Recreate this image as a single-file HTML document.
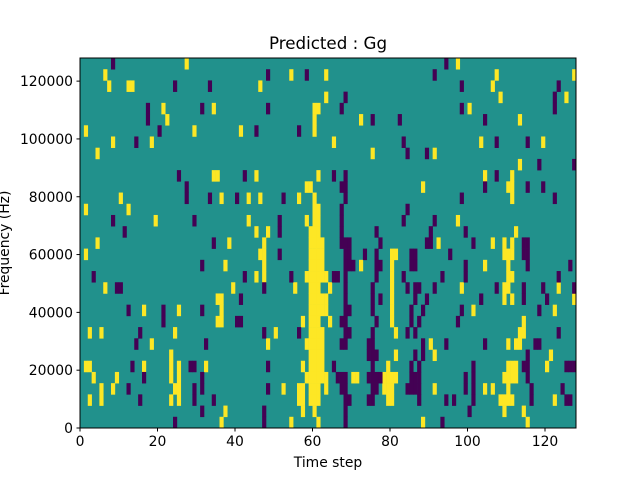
<!DOCTYPE html>
<html><head><meta charset="utf-8"><style>
html,body{margin:0;padding:0;background:#fff;}
svg{display:block;font-family:"DejaVu Sans","Liberation Sans",sans-serif;}
</style></head><body>
<svg id="chart" width="640" height="480" viewBox="0 0 640 480" xmlns="http://www.w3.org/2000/svg">
<rect width="640" height="480" fill="#fff"/>
<text x="328" y="49" font-size="16.7" text-anchor="middle">Predicted : Gg</text>
<g id="cells"></g>
<rect x="80" y="58" width="496" height="370" fill="none" stroke="#000" stroke-width="1"/>
<g id="xticks"></g>
<g id="yticks"></g>
<text x="328" y="467" font-size="13.9" text-anchor="middle">Time step</text>
<text transform="translate(9,243) rotate(-90)" font-size="13.9" text-anchor="middle">Frequency (Hz)</text>
</svg>
<script>
// rows listed top (highest frequency) to bottom; each entry = time-step columns
const yellowRows = [
[27,97],[6,54,63,107,127],[7,12,13,46,106],[63,108,125],[21,34,60,61,100],[22,60,72,113],[1,29,41,60],
[8,18,65,103,119],[4,75,91],[113],[34,35,45,61,104,111],[58,59,88,110,111],[10,36,43,46,56,60,111],
[1,12,60,61],[19,43,58,60,61,97],[45,48,59,60,61,112],[4,38,47,59,60,61,62,92,106,109,111],
[1,46,47,59,60,61,62,80,81,109,110,111],[37,47,59,60,61,62,72,80,104,110],[45,47,58,59,60,61,62,63,80,110,111],
[6,39,55,59,60,61,64,80,98,109,110,123],[35,36,59,60,61,62,63,80,109,111,127],[16,25,36,59,60,61,62,63,80,101,122],
[35,36,57,59,60,61,64,80,114],[2,5,24,50,59,60,61,62,81,113,114],[18,48,58,59,60,61,62,90,110,112,113],
[23,59,60,61,62,81,91,121],[1,2,16,23,25,32,57,59,60,61,62,79,110,111,112,120],
[3,9,23,25,58,59,60,61,62,63,70,71,78,79,80,81,109,110,111,112],
[5,8,24,25,52,56,57,59,60,61,63,78,79,80,91,104,106,110],
[2,5,23,25,56,57,59,60,61,79,80,108,109,110,111,122],[37,57,60,109,114],[36,54,61,88,115]
];
const purpleRows = [
[8,94],[48,58,91],[24,33,98,123],[68,122],[17,31,48,67,98,122],[17,75,82,104],[20,45,56],
[14,83,107,115],[84,89],[118,127],[25,42,65,68,107],[27,67,68,104,115,119],[27,33,40,52,68,98,122],
[67,84],[8,29,51,67,83,91],[11,51,67,76,90,99],[34,67,68,69,77,89,90,101,114,115],
[51,68,69,73,76,85,86,95,114,115],[31,68,69,70,76,77,85,86,99,115,126],[3,42,54,65,66,68,76,83,93,99,123],
[9,10,47,68,75,84,86,87,91,107,114,119,127],[41,68,75,77,86,89,103,114,120],[12,21,31,68,69,75,85,88,98,118],
[21,40,41,67,68,76,85,87,97],[15,47,56,68,69,75,84,86,123],[14,32,67,68,74,75,88,94,104,117,118],
[74,75,76,86,88,115],[13,28,29,48,65,75,85,87,101,114,115,125,126,127],
[16,31,66,67,68,74,75,76,77,85,86,87,99,101,115],[12,29,31,48,67,68,75,76,84,85,86,87,99,101,116,124],
[15,29,34,68,69,74,75,87,94,96,101,116,125,126],[31,47,68,100],[24,47,68,93]
];
const xTicks = [0,20,40,60,80,100,120];
const yTicks = [0,20000,40000,60000,80000,100000,120000];
const nCols = 128, nRows = 33, fMax = 128000;

const NS = "http://www.w3.org/2000/svg";
const L = 80, R = 576, T = 58, B = 428;
const xs = t => L + (t / nCols) * (R - L);
const ys = f => B - (f / fMax) * (B - T);
const rowTop = r => T + r * (B - T) / nRows;
const rowH = (B - T) / nRows;

const cells = document.getElementById('cells');
const bg = document.createElementNS(NS, 'rect');
bg.setAttribute('x', L); bg.setAttribute('y', T);
bg.setAttribute('width', R - L); bg.setAttribute('height', B - T);
bg.setAttribute('fill', '#21918c');


cells.appendChild(bg);

function drawRows(rows, color, name) {
  rows.forEach((cols, r) => {
    cols.forEach(c => {
      const el = document.createElementNS(NS, 'rect');
      const x0 = xs(c), x1 = xs(c + 1);
      el.setAttribute('x', x0.toFixed(2));
      el.setAttribute('y', rowTop(r).toFixed(2));
      el.setAttribute('width', (x1 - x0 + 0.3).toFixed(2));
      el.setAttribute('height', (rowH + 0.3).toFixed(2));
      el.setAttribute('fill', color);
      
      
      cells.appendChild(el);
    });
  });
}
drawRows(yellowRows, '#fde725', 'heatmap-cell-high');
drawRows(purpleRows, '#440154', 'heatmap-cell-low');

const xg = document.getElementById('xticks');
xTicks.forEach(v => {
  const x = xs(v);
  const ln = document.createElementNS(NS, 'line');
  ln.setAttribute('x1', x); ln.setAttribute('x2', x);
  ln.setAttribute('y1', B); ln.setAttribute('y2', B + 3.5);
  ln.setAttribute('stroke', '#000');
  
  
  xg.appendChild(ln);
  const tx = document.createElementNS(NS, 'text');
  tx.setAttribute('x', x); tx.setAttribute('y', B + 18);
  tx.setAttribute('font-size', '13.9');
  tx.setAttribute('text-anchor', 'middle');
  
  
  tx.textContent = v;
  xg.appendChild(tx);
});
const yg = document.getElementById('yticks');
yTicks.forEach(v => {
  const y = ys(v);
  const ln = document.createElementNS(NS, 'line');
  ln.setAttribute('x1', L - 3.5); ln.setAttribute('x2', L);
  ln.setAttribute('y1', y); ln.setAttribute('y2', y);
  ln.setAttribute('stroke', '#000');
  
  
  yg.appendChild(ln);
  const tx = document.createElementNS(NS, 'text');
  tx.setAttribute('x', L - 7); tx.setAttribute('y', y + 5);
  tx.setAttribute('font-size', '13.9');
  tx.setAttribute('text-anchor', 'end');
  
  
  tx.textContent = v;
  yg.appendChild(tx);
});
</script>
</body></html>
